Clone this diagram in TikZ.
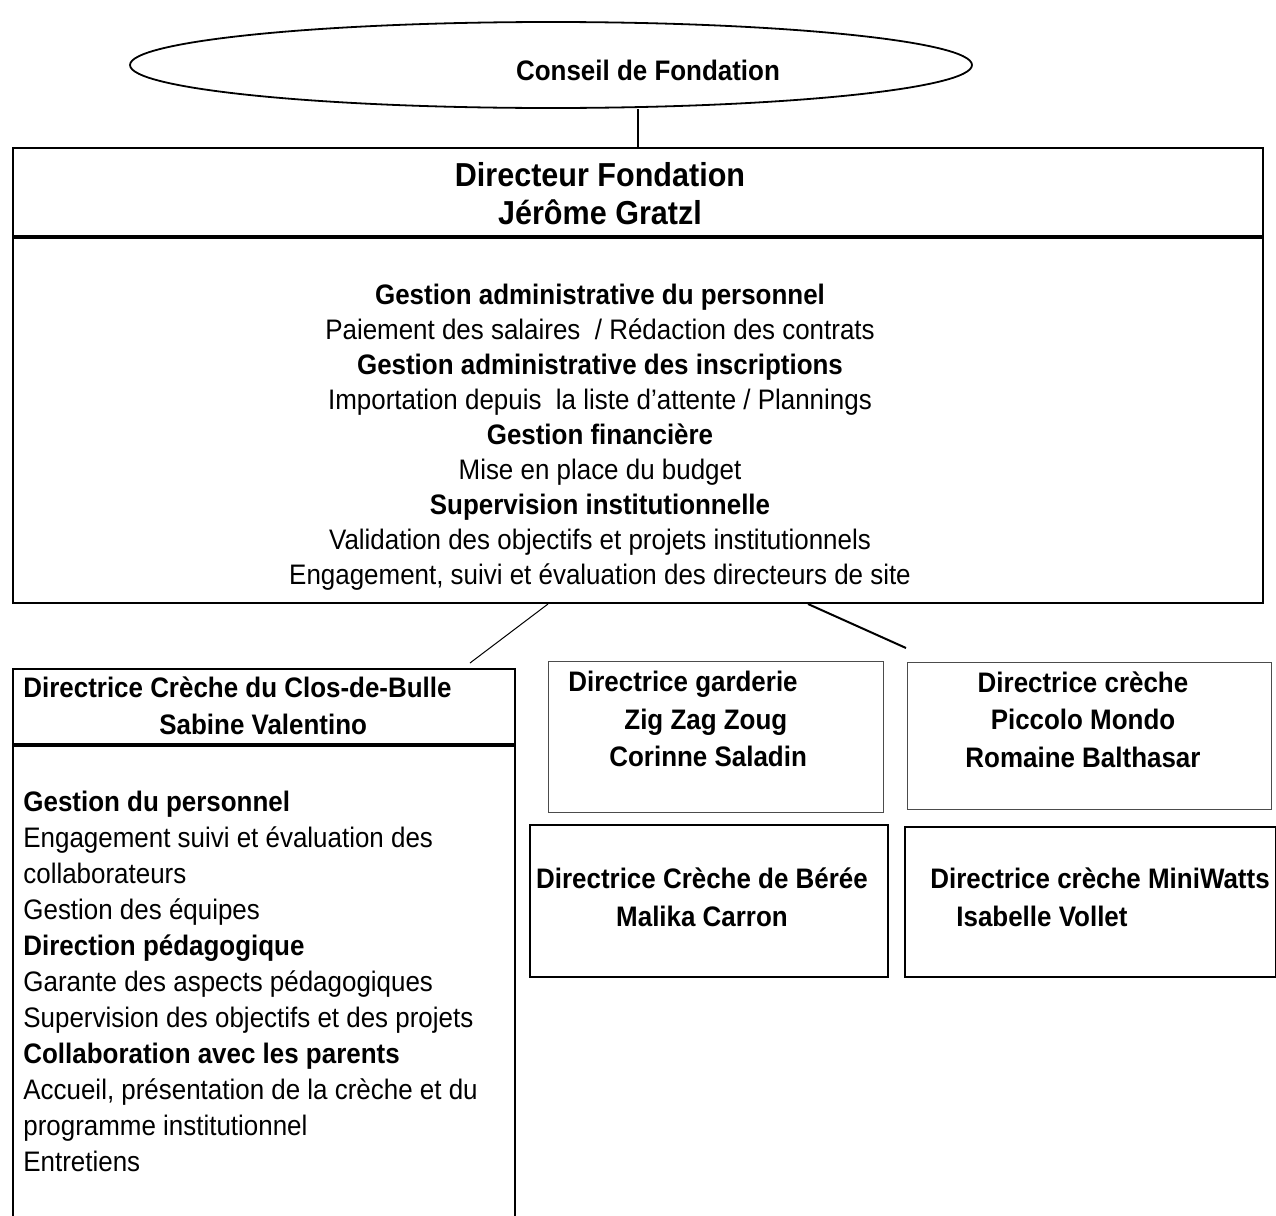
\documentclass[tikz,border=0pt]{standalone}
\usepackage{fontspec}
\setmainfont{Liberation Sans}[FakeStretch=0.92]
\usetikzlibrary{shapes.geometric, positioning, calc}

\begin{document}
\begin{tikzpicture}[
				x=0.5pt, y=-0.5pt,
				% Defining node styles
				box/.style={rectangle, draw=black, line width=1pt, inner sep=0pt},
				thin_box/.style={rectangle, draw=black!70, line width=0.6pt, inner sep=0pt},
				council_shape/.style={ellipse, draw=black, line width=0.9pt, inner sep=0pt, minimum width=421pt, minimum height=43pt},
				titletext/.style={font=\fontsize{16.6}{18.5}\selectfont\bfseries, align=center, inner sep=0pt, anchor=north},
				heading/.style={font=\fontsize{14.1}{18.75}\selectfont\bfseries, inner sep=0pt},
				tasks/.style={font=\fontsize{14.1}{17.5}\selectfont, inner sep=0pt},
				connector/.style={draw=black, line width=0.5pt},
				heavy_connector/.style={draw=black, line width=1pt}
			]
			\useasboundingbox (0,0) rectangle (1276,1216);
			\clip (0,0) rectangle (1276,1216);

			% Council on top
			\node[council_shape] (council) at (551,65) {};
			\node[heading] (council_label) at (648,70) {Conseil de Fondation};

			% Director of the foundation
			\node[box, anchor=north west, minimum width=625pt, minimum height=44pt] (dirhead) at (12,147) {};
			\node[box, below=0pt of dirhead, minimum width=625pt, minimum height=182.5pt] (dirbody) {};
			\node[titletext] (dirname) at (600,162) {Directeur Fondation\\[0.5pt] Jérôme Gratzl};
			\node[tasks, align=center, anchor=north] (dirtasks) at (600,284) {%
				\textbf{Gestion administrative du personnel}\\
				Paiement des salaires \ / Rédaction des contrats\\
				\textbf{Gestion administrative des inscriptions}\\
				Importation depuis \ la liste d’attente / Plannings\\
				\textbf{Gestion financière}\\
				Mise en place du budget\\
				\textbf{Supervision institutionnelle}\\
				Validation des objectifs et projets institutionnels\\
				Engagement, suivi et évaluation des directeurs de site};

			% Crèche du Clos-de-Bulle
			\node[box, anchor=north west, minimum width=251pt, minimum height=37.5pt] (cbhead) at (12,668) {};
			\node[box, below=0pt of cbhead, minimum width=251pt, minimum height=248.5pt] (cbbody) {};
			\node[heading, align=left, anchor=north west] (cbname) at (23,676) {Directrice Crèche du Clos-de-Bulle\\ \hspace*{68pt}Sabine Valentino};
			\node[tasks, align=left, anchor=north west, font=\fontsize{14.1}{18}\selectfont] (cbtasks) at (23,791) {%
				\textbf{Gestion du personnel}\\
				Engagement suivi et évaluation des\\
				collaborateurs\\
				Gestion des équipes\\
				\textbf{Direction pédagogique}\\
				Garante des aspects pédagogiques\\
				Supervision des objectifs et des projets\\
				\textbf{Collaboration avec les parents}\\
				Accueil, présentation de la crèche et du\\
				programme institutionnel\\
				Entretiens};

			% Other sites
			\node[thin_box, anchor=north west, minimum width=167.5pt, minimum height=75.5pt] (zzz) at (548,661) {};
			\node[thin_box, anchor=north west, minimum width=182pt, minimum height=73.5pt] (piccolo) at (907,662) {};
			\node[box, anchor=north west, minimum width=179pt, minimum height=76pt] (beree) at (529,824) {};
			\node[box, anchor=north west, minimum width=185.5pt, minimum height=75pt] (miniwatts) at (904,826) {};

			\node[heading, align=left, anchor=north west] (zzz_text) at (568,671) {Directrice garderie\\ \hspace*{28pt}Zig Zag Zoug\\ \hspace*{20.5pt}Corinne Saladin};
			\node[heading, align=center, anchor=north] (piccolo_text) at (1083,671) {Directrice crèche\\ Piccolo Mondo\\ Romaine Balthasar};
			\node[heading, align=center, anchor=north, font=\fontsize{14.1}{19}\selectfont\bfseries] (beree_text) at (702,867) {Directrice Crèche de Bérée\\ Malika Carron};
			\node[heading, align=left, anchor=north west, font=\fontsize{14.1}{19}\selectfont\bfseries] (miniwatts_text) at (930,867) {Directrice crèche MiniWatts\\ \hspace*{13pt}Isabelle Vollet};

			% Drawing connections
			\coordinate (fork_left) at ($(dirbody.south west)+(536,0)$);
			\coordinate (fork_right) at ($(dirbody.south west)+(796,0)$);
			\coordinate (loose_end) at (906,648);
			\draw[heavy_connector] (dirhead.north) -- (dirhead.north |- council.south);
			\draw[connector] (fork_left) -- ($(cbhead.north east)+(-46,-5)$);
			\draw[heavy_connector] (fork_right) -- (loose_end);

		\end{tikzpicture}
\end{document}
